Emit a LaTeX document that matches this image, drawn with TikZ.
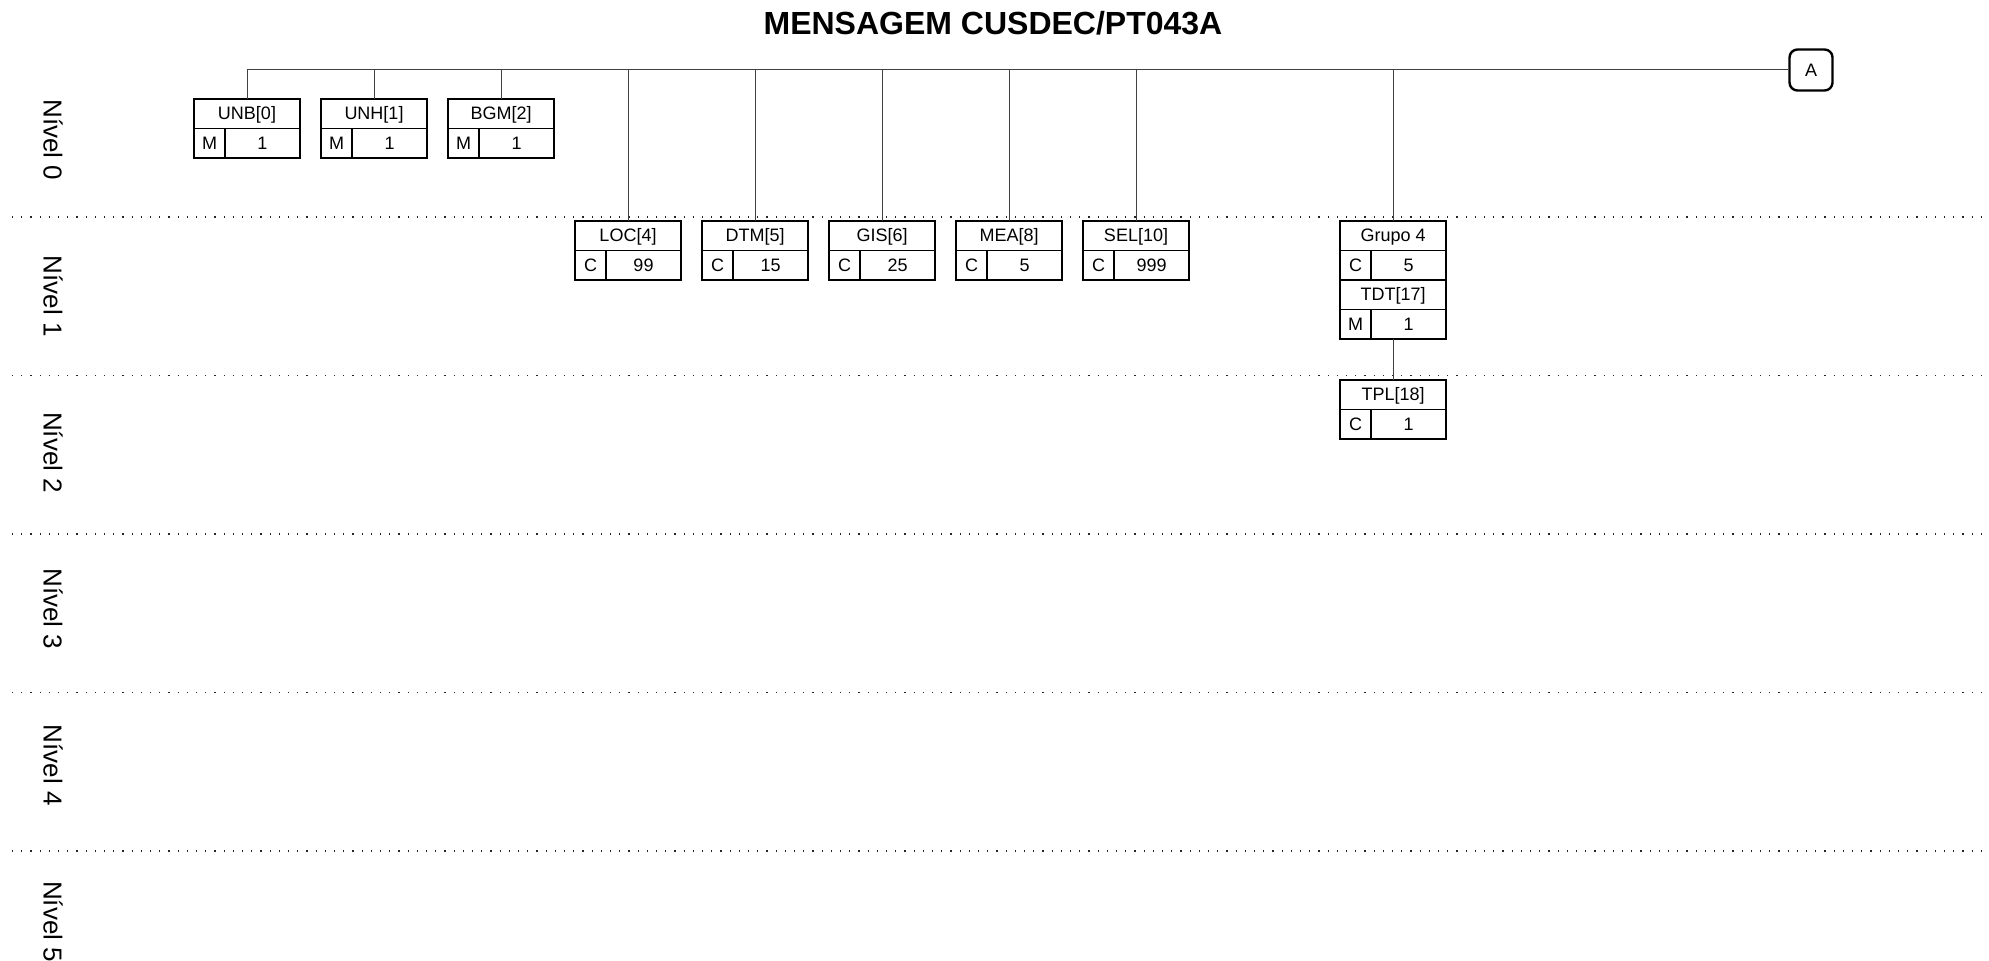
\documentclass[tikz,border=0pt]{standalone}
\usepackage{fontspec}
\setmainfont{Liberation Sans}
\usetikzlibrary{positioning}

\begin{document}
\begin{tikzpicture}[x=0.5pt,y=-0.5pt,
  seghead/.style={draw=black,line width=0.8pt,minimum width=53pt,minimum height=14.75pt,
    inner sep=0pt,outer sep=0pt,anchor=north,font=\fontsize{9}{10}\selectfont,
    text height=6.6pt,text depth=0.6pt},
  segstat/.style={seghead,minimum width=15.5pt,anchor=north west},
  segcount/.style={seghead,minimum width=37.5pt,anchor=west},
  link/.style={draw=black!75,line width=0.5pt},
  levelsep/.style={draw=black!85,line width=0.6pt,dash pattern=on 0.6pt off 4pt},
  levellabel/.style={rotate=-90,font=\fontsize{13}{15}\selectfont},
  conn/.style={draw=black,line width=1.2pt,rounded corners=4pt,minimum width=21.5pt,
    minimum height=20.5pt,inner sep=0pt,font=\fontsize{9}{10}\selectfont}]

  \useasboundingbox (0,0) rectangle (1989,961);

  \node [font=\bfseries\fontsize{16}{18}\selectfont] (title) at (993,23) {MENSAGEM CUSDEC/PT043A};

  \foreach \y in {217,375.5,534,692.6,851}
    \draw [levelsep] (12,\y) -- (1985,\y);
  \foreach \k in {0,...,5}
    \node [levellabel] (lv\k) at (53,140+156.3*\k) {Nível \k};

  \node [conn] (a) at (1811,70) {A};

  \foreach \lab/\x/\y/\st/\nr [count=\i] in {UNB[0]/247/99/M/1, UNH[1]/374/99/M/1,
      BGM[2]/501/99/M/1, LOC[4]/628/221/C/99, DTM[5]/755/221/C/15,
      GIS[6]/882/221/C/25, MEA[8]/1009/221/C/5, SEL[10]/1136/221/C/999} {
    \node [seghead] (h\i) at (\x,\y) {\lab};
    \node [segstat] (s\i) at (h\i.south west) {\st};
    \node [segcount,right=0pt of s\i] (c\i) {\nr};
    \draw [link] (h\i.north) -- (h\i.north |- a.west);
  }
  \draw [link] (h1.north |- a.west) -- (a.west);

  \node [seghead] (grp) at (1393,221) {Grupo 4};
  \node [segstat] (grps) at (grp.south west) {C};
  \node [segcount,right=0pt of grps] (grpc) {5};
  \node [seghead,anchor=north west] (tdt) at (grps.south west) {TDT[17]};
  \node [segstat] (tdts) at (tdt.south west) {M};
  \node [segcount,right=0pt of tdts] (tdtc) {1};
  \draw [link] (grp.north) -- (grp.north |- a.west);

  \node [seghead] (tpl) at (1393,380) {TPL[18]};
  \node [segstat] (tpls) at (tpl.south west) {C};
  \node [segcount,right=0pt of tpls] (tplc) {1};
  \draw [link] (tdt.south |- tdts.south) -- (tpl.north);
\end{tikzpicture}
\end{document}
